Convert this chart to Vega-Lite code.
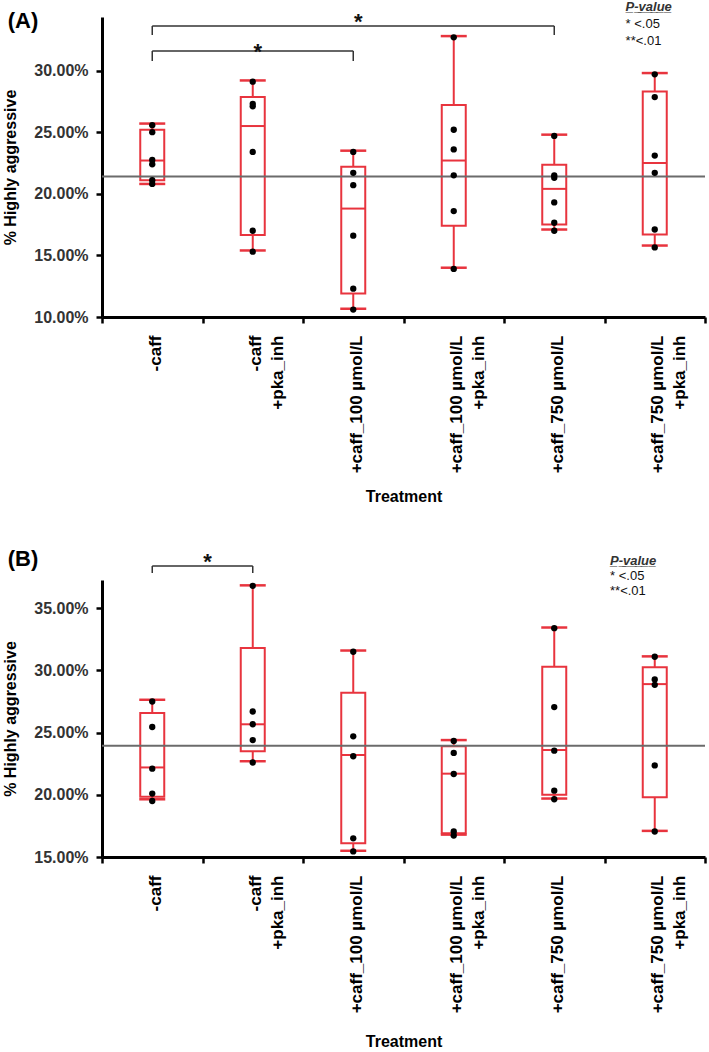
{
  "$schema": "https://vega.github.io/schema/vega-lite/v6.json",
  "padding": {"left": 2, "top": 1, "right": 0, "bottom": 0},
  "spacing": 43,
  "datasets": {
    "sumA": [
      {"t": "-caff", "lo": 0.208, "q1": 0.211, "med": 0.227, "q3": 0.252, "hi": 0.257},
      {"t": "-caff +pka_inh", "lo": 0.154, "q1": 0.1666, "med": 0.255, "q3": 0.2785, "hi": 0.292},
      {"t": "+caff_100 µmol/L", "lo": 0.1067, "q1": 0.119, "med": 0.188, "q3": 0.222, "hi": 0.235},
      {"t": "+caff_100 µmol/L +pka_inh", "lo": 0.14, "q1": 0.174, "med": 0.227, "q3": 0.272, "hi": 0.328},
      {"t": "+caff_750 µmol/L", "lo": 0.171, "q1": 0.175, "med": 0.204, "q3": 0.2235, "hi": 0.248},
      {"t": "+caff_750 µmol/L +pka_inh", "lo": 0.158, "q1": 0.167, "med": 0.225, "q3": 0.283, "hi": 0.298}
    ],
    "ptA": [
      {"t": "-caff", "v": 0.2557}, {"t": "-caff", "v": 0.25}, {"t": "-caff", "v": 0.2275}, {"t": "-caff", "v": 0.224}, {"t": "-caff", "v": 0.211}, {"t": "-caff", "v": 0.208},
      {"t": "-caff +pka_inh", "v": 0.291}, {"t": "-caff +pka_inh", "v": 0.273}, {"t": "-caff +pka_inh", "v": 0.271}, {"t": "-caff +pka_inh", "v": 0.234}, {"t": "-caff +pka_inh", "v": 0.17}, {"t": "-caff +pka_inh", "v": 0.153},
      {"t": "+caff_100 µmol/L", "v": 0.234}, {"t": "+caff_100 µmol/L", "v": 0.217}, {"t": "+caff_100 µmol/L", "v": 0.207}, {"t": "+caff_100 µmol/L", "v": 0.166}, {"t": "+caff_100 µmol/L", "v": 0.123}, {"t": "+caff_100 µmol/L", "v": 0.106},
      {"t": "+caff_100 µmol/L +pka_inh", "v": 0.327}, {"t": "+caff_100 µmol/L +pka_inh", "v": 0.252}, {"t": "+caff_100 µmol/L +pka_inh", "v": 0.236}, {"t": "+caff_100 µmol/L +pka_inh", "v": 0.215}, {"t": "+caff_100 µmol/L +pka_inh", "v": 0.186}, {"t": "+caff_100 µmol/L +pka_inh", "v": 0.139},
      {"t": "+caff_750 µmol/L", "v": 0.247}, {"t": "+caff_750 µmol/L", "v": 0.215}, {"t": "+caff_750 µmol/L", "v": 0.213}, {"t": "+caff_750 µmol/L", "v": 0.193}, {"t": "+caff_750 µmol/L", "v": 0.1765}, {"t": "+caff_750 µmol/L", "v": 0.17},
      {"t": "+caff_750 µmol/L +pka_inh", "v": 0.297}, {"t": "+caff_750 µmol/L +pka_inh", "v": 0.2785}, {"t": "+caff_750 µmol/L +pka_inh", "v": 0.231}, {"t": "+caff_750 µmol/L +pka_inh", "v": 0.217}, {"t": "+caff_750 µmol/L +pka_inh", "v": 0.171}, {"t": "+caff_750 µmol/L +pka_inh", "v": 0.1565}
    ],
    "refA": [{"v": 0.214}],
    "brA": [
      {"t": "-caff", "t2": "+caff_100 µmol/L", "y": 0.3159},
      {"t": "-caff", "t2": "+caff_750 µmol/L", "y": 0.3362}
    ],
    "legA": [
      {"t": "-caff", "y": 0.3159, "y2": 0.3078},
      {"t": "+caff_100 µmol/L", "y": 0.3159, "y2": 0.3078},
      {"t": "-caff", "y": 0.3362, "y2": 0.3289},
      {"t": "+caff_750 µmol/L", "y": 0.3362, "y2": 0.3289}
    ],
    "stA": [
      {"t": "-caff +pka_inh", "y": 0.3098, "s": "*"},
      {"t": "+caff_100 µmol/L", "y": 0.3334, "s": "*"}
    ],
    "lgA": [
      {"t": "+caff_750 µmol/L +pka_inh", "y": 0.3378, "s": "* <.05"},
      {"t": "+caff_750 µmol/L +pka_inh", "y": 0.324, "s": "**<.01"}
    ],
    "lhA": [{"t": "+caff_750 µmol/L +pka_inh", "y": 0.3516, "s": "P\u0332-\u0332v\u0332a\u0332l\u0332u\u0332e\u0332"}],
    "pnA": [{"t": "-caff", "y": 0.3403, "s": "(A)"}],
    "sumB": [
      {"t": "-caff", "lo": 0.1964, "q1": 0.1985, "med": 0.222, "q3": 0.2657, "hi": 0.2764},
      {"t": "-caff +pka_inh", "lo": 0.227, "q1": 0.235, "med": 0.2567, "q3": 0.318, "hi": 0.3684},
      {"t": "+caff_100 µmol/L", "lo": 0.155, "q1": 0.161, "med": 0.232, "q3": 0.282, "hi": 0.316},
      {"t": "+caff_100 µmol/L +pka_inh", "lo": 0.168, "q1": 0.169, "med": 0.217, "q3": 0.239, "hi": 0.244},
      {"t": "+caff_750 µmol/L", "lo": 0.197, "q1": 0.2, "med": 0.236, "q3": 0.303, "hi": 0.3345},
      {"t": "+caff_750 µmol/L +pka_inh", "lo": 0.171, "q1": 0.198, "med": 0.289, "q3": 0.3025, "hi": 0.3113}
    ],
    "ptB": [
      {"t": "-caff", "v": 0.275}, {"t": "-caff", "v": 0.2545}, {"t": "-caff", "v": 0.221}, {"t": "-caff", "v": 0.201}, {"t": "-caff", "v": 0.195},
      {"t": "-caff +pka_inh", "v": 0.368}, {"t": "-caff +pka_inh", "v": 0.267}, {"t": "-caff +pka_inh", "v": 0.2567}, {"t": "-caff +pka_inh", "v": 0.244}, {"t": "-caff +pka_inh", "v": 0.226},
      {"t": "+caff_100 µmol/L", "v": 0.315}, {"t": "+caff_100 µmol/L", "v": 0.247}, {"t": "+caff_100 µmol/L", "v": 0.231}, {"t": "+caff_100 µmol/L", "v": 0.165}, {"t": "+caff_100 µmol/L", "v": 0.1545},
      {"t": "+caff_100 µmol/L +pka_inh", "v": 0.2433}, {"t": "+caff_100 µmol/L +pka_inh", "v": 0.2337}, {"t": "+caff_100 µmol/L +pka_inh", "v": 0.2167}, {"t": "+caff_100 µmol/L +pka_inh", "v": 0.1705}, {"t": "+caff_100 µmol/L +pka_inh", "v": 0.1673},
      {"t": "+caff_750 µmol/L", "v": 0.334}, {"t": "+caff_750 µmol/L", "v": 0.2705}, {"t": "+caff_750 µmol/L", "v": 0.2355}, {"t": "+caff_750 µmol/L", "v": 0.2033}, {"t": "+caff_750 µmol/L", "v": 0.1964},
      {"t": "+caff_750 µmol/L +pka_inh", "v": 0.311}, {"t": "+caff_750 µmol/L +pka_inh", "v": 0.2927}, {"t": "+caff_750 µmol/L +pka_inh", "v": 0.2884}, {"t": "+caff_750 µmol/L +pka_inh", "v": 0.2236}, {"t": "+caff_750 µmol/L +pka_inh", "v": 0.1705}
    ],
    "refB": [{"v": 0.2395}],
    "brB": [
      {"t": "-caff", "t2": "-caff +pka_inh", "y": 0.3839}
    ],
    "legB": [
      {"t": "-caff", "y": 0.3839, "y2": 0.3783},
      {"t": "-caff +pka_inh", "y": 0.3839, "y2": 0.3783}
    ],
    "stB": [
      {"t": "-caff +pka_inh", "y": 0.3819, "s": "*"}
    ],
    "lgB": [
      {"t": "+caff_750 µmol/L +pka_inh", "y": 0.3759, "s": "* <.05"},
      {"t": "+caff_750 µmol/L +pka_inh", "y": 0.3638, "s": "**<.01"}
    ],
    "lhB": [{"t": "+caff_750 µmol/L +pka_inh", "y": 0.3879, "s": "P\u0332-\u0332v\u0332a\u0332l\u0332u\u0332e\u0332"}],
    "pnB": [{"t": "-caff", "y": 0.3895, "s": "(B)"}]
  },
  "vconcat": [
    {
      "width": 603,
      "height": 300,
      "layer": [
        {"data": {"name": "sumA"}, "mark": {"type": "rule", "color": "#e8343e", "strokeWidth": 2},
         "encoding": {
           "x": {"field": "t", "type": "nominal", "title": "Treatment",
                 "scale": {"domain": ["-caff", "-caff +pka_inh", "+caff_100 µmol/L", "+caff_100 µmol/L +pka_inh", "+caff_750 µmol/L", "+caff_750 µmol/L +pka_inh"], "paddingInner": 0, "paddingOuter": 0},
                 "axis": {"labelExpr": "indexof(datum.label, ' +pka_inh') > 0 ? [replace(datum.label, ' +pka_inh', ''), '+pka_inh'] : datum.label",
                          "titlePadding": 16}},
           "y": {"field": "lo", "type": "quantitative", "title": "% Highly aggressive",
                 "scale": {"domain": [0.10, 0.3435], "nice": false, "zero": false},
                 "axis": {"format": ".2%", "values": [0.1, 0.125, 0.15, 0.175, 0.2, 0.225, 0.25, 0.275, 0.3, 0.325],
                          "labelExpr": "round(datum.value*1000) % 50 == 0 ? datum.label : ''",
                          "tickSize": {"condition": {"test": "round(datum.value*1000) % 50 == 0", "value": 6}, "value": 3}}},
           "y2": {"field": "q1"}}},
        {"data": {"name": "sumA"}, "mark": {"type": "rule", "color": "#e8343e", "strokeWidth": 2},
         "encoding": {"x": {"field": "t", "type": "nominal", "title": "Treatment"}, "y": {"field": "q3", "type": "quantitative", "title": "% Highly aggressive"}, "y2": {"field": "hi"}}},
        {"data": {"name": "sumA"}, "mark": {"type": "bar", "size": 24, "fill": "transparent", "stroke": "#e8343e", "strokeWidth": 2},
         "encoding": {"x": {"field": "t", "type": "nominal", "title": "Treatment"}, "y": {"field": "q1", "type": "quantitative", "title": "% Highly aggressive"}, "y2": {"field": "q3"}}},
        {"data": {"name": "sumA"}, "mark": {"type": "tick", "color": "#e8343e", "size": 26, "thickness": 2.5, "opacity": 1},
         "encoding": {"x": {"field": "t", "type": "nominal", "title": "Treatment"}, "y": {"field": "lo", "type": "quantitative", "title": "% Highly aggressive"}}},
        {"data": {"name": "sumA"}, "mark": {"type": "tick", "color": "#e8343e", "size": 26, "thickness": 2.5, "opacity": 1},
         "encoding": {"x": {"field": "t", "type": "nominal", "title": "Treatment"}, "y": {"field": "hi", "type": "quantitative", "title": "% Highly aggressive"}}},
        {"data": {"name": "sumA"}, "mark": {"type": "tick", "color": "#e8343e", "size": 24, "thickness": 2, "opacity": 1},
         "encoding": {"x": {"field": "t", "type": "nominal", "title": "Treatment"}, "y": {"field": "med", "type": "quantitative", "title": "% Highly aggressive"}}},
        {"data": {"name": "refA"}, "mark": {"type": "rule", "color": "#6b6b6b", "strokeWidth": 2},
         "encoding": {"y": {"field": "v", "type": "quantitative", "title": "% Highly aggressive"}}},
        {"data": {"name": "ptA"}, "mark": {"type": "circle", "color": "#000", "size": 40, "opacity": 1},
         "encoding": {"x": {"field": "t", "type": "nominal", "title": "Treatment"}, "y": {"field": "v", "type": "quantitative", "title": "% Highly aggressive"}}},
        {"data": {"name": "brA"}, "mark": {"type": "rule", "color": "#333", "strokeWidth": 1.5},
         "encoding": {"x": {"field": "t", "type": "nominal", "title": "Treatment"}, "x2": {"field": "t2"}, "y": {"field": "y", "type": "quantitative", "title": "% Highly aggressive"}}},
        {"data": {"name": "legA"}, "mark": {"type": "rule", "color": "#333", "strokeWidth": 1.5},
         "encoding": {"x": {"field": "t", "type": "nominal", "title": "Treatment"}, "y": {"field": "y", "type": "quantitative", "title": "% Highly aggressive"}, "y2": {"field": "y2"}}},
        {"data": {"name": "stA"}, "mark": {"type": "text", "fontSize": 22, "fontWeight": "bold", "align": "center", "baseline": "alphabetic", "color": "#111"},
         "encoding": {"x": {"field": "t", "type": "nominal", "title": "Treatment", "bandPosition": 0.55}, "y": {"field": "y", "type": "quantitative", "title": "% Highly aggressive"}, "text": {"field": "s"}}},
        {"data": {"name": "lgA"}, "mark": {"type": "text", "fontSize": 13, "align": "left", "baseline": "middle", "color": "#111"},
         "encoding": {"x": {"field": "t", "type": "nominal", "title": "Treatment", "bandPosition": 0.21}, "y": {"field": "y", "type": "quantitative", "title": "% Highly aggressive"}, "text": {"field": "s"}}},
        {"data": {"name": "lhA"}, "mark": {"type": "text", "fontSize": 13, "fontStyle": "italic", "fontWeight": "bold", "align": "left", "baseline": "middle", "color": "#333"},
         "encoding": {"x": {"field": "t", "type": "nominal", "title": "Treatment", "bandPosition": 0.21}, "y": {"field": "y", "type": "quantitative", "title": "% Highly aggressive"}, "text": {"field": "s"}}},
        {"data": {"name": "pnA"}, "mark": {"type": "text", "fontSize": 22, "fontWeight": "bold", "align": "center", "baseline": "middle", "color": "#000"},
         "encoding": {"x": {"field": "t", "type": "nominal", "title": "Treatment", "bandPosition": -0.786}, "y": {"field": "y", "type": "quantitative", "title": "% Highly aggressive"}, "text": {"field": "s"}}}
      ]
    },
    {
      "width": 603,
      "height": 277,
      "layer": [
        {"data": {"name": "sumB"}, "mark": {"type": "rule", "color": "#e8343e", "strokeWidth": 2},
         "encoding": {
           "x": {"field": "t", "type": "nominal", "title": "Treatment",
                 "scale": {"domain": ["-caff", "-caff +pka_inh", "+caff_100 µmol/L", "+caff_100 µmol/L +pka_inh", "+caff_750 µmol/L", "+caff_750 µmol/L +pka_inh"], "paddingInner": 0, "paddingOuter": 0},
                 "axis": {"labelExpr": "indexof(datum.label, ' +pka_inh') > 0 ? [replace(datum.label, ' +pka_inh', ''), '+pka_inh'] : datum.label",
                          "titlePadding": 21}},
           "y": {"field": "lo", "type": "quantitative", "title": "% Highly aggressive",
                 "scale": {"domain": [0.15, 0.3727], "nice": false, "zero": false},
                 "axis": {"format": ".2%", "values": [0.15, 0.175, 0.2, 0.225, 0.25, 0.275, 0.3, 0.325, 0.35],
                          "labelExpr": "round(datum.value*1000) % 50 == 0 ? datum.label : ''",
                          "tickSize": {"condition": {"test": "round(datum.value*1000) % 50 == 0", "value": 6}, "value": 3}}},
           "y2": {"field": "q1"}}},
        {"data": {"name": "sumB"}, "mark": {"type": "rule", "color": "#e8343e", "strokeWidth": 2},
         "encoding": {"x": {"field": "t", "type": "nominal", "title": "Treatment"}, "y": {"field": "q3", "type": "quantitative", "title": "% Highly aggressive"}, "y2": {"field": "hi"}}},
        {"data": {"name": "sumB"}, "mark": {"type": "bar", "size": 24, "fill": "transparent", "stroke": "#e8343e", "strokeWidth": 2},
         "encoding": {"x": {"field": "t", "type": "nominal", "title": "Treatment"}, "y": {"field": "q1", "type": "quantitative", "title": "% Highly aggressive"}, "y2": {"field": "q3"}}},
        {"data": {"name": "sumB"}, "mark": {"type": "tick", "color": "#e8343e", "size": 26, "thickness": 2.5, "opacity": 1},
         "encoding": {"x": {"field": "t", "type": "nominal", "title": "Treatment"}, "y": {"field": "lo", "type": "quantitative", "title": "% Highly aggressive"}}},
        {"data": {"name": "sumB"}, "mark": {"type": "tick", "color": "#e8343e", "size": 26, "thickness": 2.5, "opacity": 1},
         "encoding": {"x": {"field": "t", "type": "nominal", "title": "Treatment"}, "y": {"field": "hi", "type": "quantitative", "title": "% Highly aggressive"}}},
        {"data": {"name": "sumB"}, "mark": {"type": "tick", "color": "#e8343e", "size": 24, "thickness": 2, "opacity": 1},
         "encoding": {"x": {"field": "t", "type": "nominal", "title": "Treatment"}, "y": {"field": "med", "type": "quantitative", "title": "% Highly aggressive"}}},
        {"data": {"name": "refB"}, "mark": {"type": "rule", "color": "#6b6b6b", "strokeWidth": 2},
         "encoding": {"y": {"field": "v", "type": "quantitative", "title": "% Highly aggressive"}}},
        {"data": {"name": "ptB"}, "mark": {"type": "circle", "color": "#000", "size": 40, "opacity": 1},
         "encoding": {"x": {"field": "t", "type": "nominal", "title": "Treatment"}, "y": {"field": "v", "type": "quantitative", "title": "% Highly aggressive"}}},
        {"data": {"name": "brB"}, "mark": {"type": "rule", "color": "#333", "strokeWidth": 1.5},
         "encoding": {"x": {"field": "t", "type": "nominal", "title": "Treatment"}, "x2": {"field": "t2"}, "y": {"field": "y", "type": "quantitative", "title": "% Highly aggressive"}}},
        {"data": {"name": "legB"}, "mark": {"type": "rule", "color": "#333", "strokeWidth": 1.5},
         "encoding": {"x": {"field": "t", "type": "nominal", "title": "Treatment"}, "y": {"field": "y", "type": "quantitative", "title": "% Highly aggressive"}, "y2": {"field": "y2"}}},
        {"data": {"name": "stB"}, "mark": {"type": "text", "fontSize": 22, "fontWeight": "bold", "align": "center", "baseline": "alphabetic", "color": "#111"},
         "encoding": {"x": {"field": "t", "type": "nominal", "title": "Treatment", "bandPosition": 0.05}, "y": {"field": "y", "type": "quantitative", "title": "% Highly aggressive"}, "text": {"field": "s"}}},
        {"data": {"name": "lgB"}, "mark": {"type": "text", "fontSize": 13, "align": "left", "baseline": "middle", "color": "#111"},
         "encoding": {"x": {"field": "t", "type": "nominal", "title": "Treatment", "bandPosition": 0.055}, "y": {"field": "y", "type": "quantitative", "title": "% Highly aggressive"}, "text": {"field": "s"}}},
        {"data": {"name": "lhB"}, "mark": {"type": "text", "fontSize": 13, "fontStyle": "italic", "fontWeight": "bold", "align": "left", "baseline": "middle", "color": "#333"},
         "encoding": {"x": {"field": "t", "type": "nominal", "title": "Treatment", "bandPosition": 0.055}, "y": {"field": "y", "type": "quantitative", "title": "% Highly aggressive"}, "text": {"field": "s"}}},
        {"data": {"name": "pnB"}, "mark": {"type": "text", "fontSize": 22, "fontWeight": "bold", "align": "center", "baseline": "middle", "color": "#000"},
         "encoding": {"x": {"field": "t", "type": "nominal", "title": "Treatment", "bandPosition": -0.786}, "y": {"field": "y", "type": "quantitative", "title": "% Highly aggressive"}, "text": {"field": "s"}}}
      ]
    }
  ],
  "config": {
    "view": {"stroke": null},
    "font": "Liberation Sans",
    "axis": {"domainColor": "#000", "domainWidth": 3, "tickColor": "#000", "tickWidth": 2.5, "grid": false,
             "labelFont": "Liberation Sans", "labelFontWeight": "bold", "labelColor": "#000",
             "titleFont": "Liberation Sans", "titleFontWeight": "bold", "titleColor": "#000"},
    "axisX": {"labelAngle": -90, "labelAlign": "right", "labelBaseline": "middle", "labelFontSize": 17, "labelLineHeight": 22,
              "labelPadding": 12, "labelOffset": 3, "tickBand": "extent", "tickSize": 6, "titleFontSize": 16, "labelLimit": 0},
    "axisY": {"labelFontSize": 16, "labelColor": "#333", "labelPadding": 8, "titleFontSize": 16, "titlePadding": 15}
  }
}
